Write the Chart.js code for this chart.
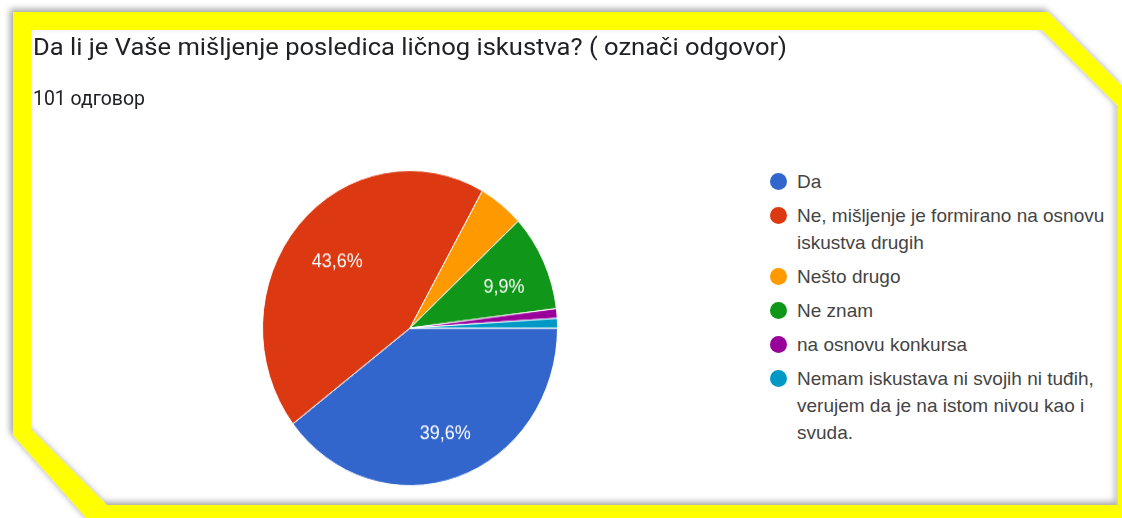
<!DOCTYPE html>
<html>
<head>
<meta charset="utf-8">
<script src="https://cdn.jsdelivr.net/npm/chart.js@4/dist/chart.umd.min.js"></script>
<style>
  html, body { margin:0; padding:0; background:#ffffff; }
  body { width:1122px; height:518px; position:relative; overflow:hidden; }
  #frame { position:absolute; left:0; top:0; }
  #title { position:absolute; left:33px; top:33px; font-family:Roboto, "Noto Sans", sans-serif; font-size:22px; line-height:28px; color:#202124; white-space:nowrap; transform-origin:0 0; }
  #subtitle { position:absolute; left:33px; top:87px; font-family:Roboto, "Noto Sans", sans-serif; font-size:19px; line-height:22px; color:#202124; white-space:nowrap; transform-origin:0 0; }
  #pieWrap { position:absolute; left:262px; top:170px; width:296px; height:296px; transform-origin:0 0; transform:scaleY(1.068); }
  #legend { position:absolute; left:770px; top:168px; font-family:"Liberation Sans", Arial, sans-serif; font-size:19px; line-height:27px; color:#444444; }
  .item { position:relative; padding-left:27px; margin-bottom:7px; white-space:nowrap; }
  .dot { position:absolute; left:0; top:5px; width:17px; height:17px; border-radius:50%; }
</style>
</head>
<body>
<svg id="frame" width="1122" height="518" viewBox="0 0 1122 518">
  <defs>
    <filter id="sh" x="-5%" y="-5%" width="110%" height="110%">
      <feDropShadow dx="-3" dy="-3" stdDeviation="3" flood-color="#000" flood-opacity="0.35"/>
    </filter>
  </defs>
  <path filter="url(#sh)" fill="#ffff00" fill-rule="evenodd"
        d="M13 12 H1048 L1122 86 V530 H97 L13 435 Z M31 30 H1042 L1118 106 V505 H107 L31 429 Z"/>
</svg>
<div id="title">Da li je Vaše mišljenje posledica ličnog iskustva? ( označi odgovor)</div>
<div id="subtitle">101 одговор</div>
<div id="pieWrap"><canvas id="c"></canvas></div>
<div id="legend"></div>
<script>
const categories = [
  "Da",
  "Ne, mišljenje je formirano na osnovu iskustva drugih",
  "Nešto drugo",
  "Ne znam",
  "na osnovu konkursa",
  "Nemam iskustava ni svojih ni tuđih, verujem da je na istom nivou kao i svuda."
];
const legendLines = [
  ["Da"],
  ["Ne, mišljenje je formirano na osnovu", "iskustva drugih"],
  ["Nešto drugo"],
  ["Ne znam"],
  ["na osnovu konkursa"],
  ["Nemam iskustava ni svojih ni tuđih,", "verujem da je na istom nivou kao i", "svuda."]
];
const counts = [40, 44, 5, 10, 1, 1];
const colors = ["#3366cc", "#dc3912", "#ff9900", "#109618", "#990099", "#0099c6"];

// fit heading texts to the reference widths
function fitWidth(id, target) {
  const el = document.getElementById(id);
  const w = el.getBoundingClientRect().width;
  el.style.transform = 'scale(' + (target / w) + ',1.068)';
}
fitWidth('title', 754);
fitWidth('subtitle', 112);

// HTML legend built from the arrays
const leg = document.getElementById('legend');
legendLines.forEach((lines, i) => {
  const it = document.createElement('div');
  it.className = 'item';
  const d = document.createElement('span');
  d.className = 'dot';
  d.style.background = colors[i];
  it.appendChild(d);
  lines.forEach(l => { const s = document.createElement('div'); s.textContent = l; it.appendChild(s); });
  leg.appendChild(it);
});

const total = counts.reduce((a, b) => a + b, 0);
const sliceLabels = {
  id: 'sliceLabels',
  afterDatasetsDraw(chart) {
    const ctx = chart.ctx;
    const meta = chart.getDatasetMeta(0);
    meta.data.forEach((arc, i) => {
      const pct = counts[i] / total * 100;
      if (pct < 9) return;
      const p = arc.getProps(['x', 'y', 'startAngle', 'endAngle', 'outerRadius'], true);
      const mid = (p.startAngle + p.endAngle) / 2;
      const r = p.outerRadius * 0.68;
      ctx.save();
      ctx.fillStyle = '#ffffff';
      ctx.font = '18px "Liberation Sans", Arial, sans-serif';
      ctx.textAlign = 'center';
      ctx.textBaseline = 'middle';
      ctx.fillText(pct.toFixed(1).replace('.', ',') + '%', p.x + Math.cos(mid) * r + 3, p.y + Math.sin(mid) * r + 4);
      ctx.restore();
    });
  }
};

new Chart(document.getElementById('c'), {
  type: 'pie',
  data: {
    labels: categories,
    datasets: [{
      data: counts,
      backgroundColor: colors,
      borderColor: '#ffffff',
      borderWidth: 1,
      hoverOffset: 0
    }]
  },
  options: {
    responsive: true,
    maintainAspectRatio: false,
    animation: false,
    rotation: 90,
    layout: { padding: 0 },
    plugins: { legend: { display: false }, tooltip: { enabled: false } }
  },
  plugins: [sliceLabels]
});
</script>
</body>
</html>
